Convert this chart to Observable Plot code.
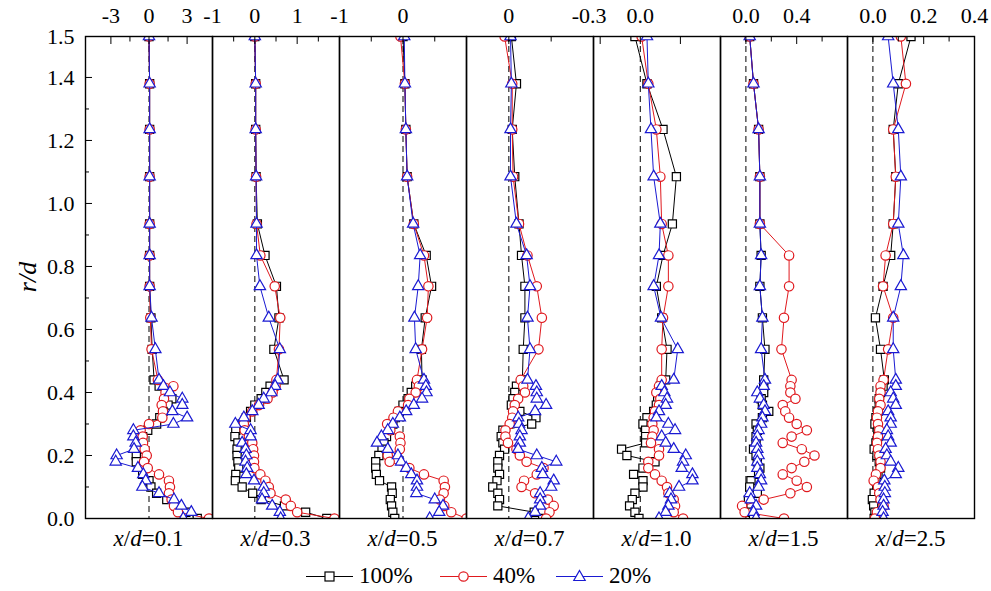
<!DOCTYPE html>
<html><head><meta charset="utf-8">
<script src="https://cdn.jsdelivr.net/npm/d3@7"></script>
<script src="https://cdn.jsdelivr.net/npm/@observablehq/plot@0.6"></script>
<style>
body{margin:0;background:#fff;}
#wrap{position:relative;width:991px;height:591px;overflow:hidden;background:#fff;font-family:"Liberation Serif","Times New Roman",serif;color:#000;}
.pan{position:absolute;top:0;}
.xl{position:absolute;top:526px;width:127px;text-align:center;font-size:23px;white-space:nowrap;}
.yl{position:absolute;left:-2px;top:262px;width:60px;text-align:center;font-size:26px;font-style:italic;transform:rotate(-90deg);}
.leg{position:absolute;top:562px;height:28px;display:flex;align-items:center;font-size:23px;}
.leg svg{margin-right:6px;}
</style></head><body><div id="wrap"></div>
<script>
// r/d positions (top to bottom)
const r = [1.53, 1.38, 1.235, 1.085, 0.935, 0.835, 0.737, 0.637, 0.537,
  0.44, 0.42, 0.40, 0.38, 0.36, 0.34, 0.32, 0.30, 0.28, 0.26, 0.24, 0.22, 0.20, 0.18, 0.16, 0.14, 0.12, 0.10, 0.08, 0.06, 0.04, 0.02, 0.0];

// x/d = 0.1
const x01_100 = [0.0, 0.05, 0.05, 0.05, 0.05, 0.05, 0.05, 0.15, 0.25,
  0.4, 0.8, 1.6, 1.8, 1.5, 1.1, 0.85, 0.6, -0.1, -0.5, -0.6, -0.8, -1.0, -1.0, -0.5, -0.5, 0.0, 0.15, 0.6, 1.4, 2.1, 2.9, 3.8];
const x01_40 = [0.0, 0.05, 0.05, 0.05, 0.05, 0.05, 0.05, 0.1, 0.2,
  0.7, 1.92, 1.3, 1.18, 1.0, 1.1, 1.05, 0.0, -0.66, -0.5, -0.47, -0.34, -0.18, -0.39, -0.1, 0.79, 1.57, 1.65, 1.57, 1.78, 1.97, 2.28, 4.72];
const x01_20 = [0.0, 0.05, 0.05, 0.05, 0.05, 0.05, 0.05, 0.2, 0.5,
  0.79, 1.13, 1.65, 2.62, 2.62, 1.84, 3.0, 1.92, -1.23, -1.23, -1.05, -1.18, -2.55, -2.62, -0.87, -0.45, -0.26, -0.52, 0.79, 1.97, 2.55, 3.33, 2.7];
// x/d = 0.3
const x03_100 = [0.0, 0.02, 0.02, 0.03, 0.06, 0.24, 0.51, 0.57, 0.45,
  0.69, 0.36, 0.26, 0.15, 0.0, -0.1, -0.2, -0.3, -0.45, -0.47, -0.4, -0.42, -0.42, -0.4, -0.38, -0.45, -0.46, -0.3, -0.05, 0.15, 0.7, 1.2, 1.7];
const x03_40 = [0.0, 0.02, 0.02, 0.03, 0.04, 0.13, 0.47, 0.6, 0.57,
  0.51, 0.49, 0.42, 0.3, 0.1, -0.06, -0.22, -0.26, -0.24, -0.14, -0.06, -0.04, -0.02, -0.02, -0.01, 0.13, 0.25, 0.33, 0.37, 0.73, 0.85, 1.0, 1.88];
const x03_20 = [0.0, 0.02, 0.02, 0.03, 0.04, 0.04, 0.12, 0.33, 0.59,
  0.54, 0.48, 0.39, 0.21, 0.09, -0.06, -0.26, -0.46, -0.1, -0.1, -0.3, -0.22, -0.2, -0.22, -0.18, -0.2, -0.02, 0.21, 0.21, 0.17, 0.41, 0.59, 0.61];
// x/d = 0.5
const x05_100 = [0.0, 0.03, 0.045, 0.065, 0.17, 0.365, 0.45, 0.35, 0.29,
  0.3, 0.2, 0.13, 0.08, 0.0, -0.06, -0.12, -0.16, -0.21, -0.26, -0.3, -0.33, -0.38, -0.43, -0.43, -0.42, -0.37, -0.18, -0.17, -0.2, -0.18, -0.16, -0.13];
const x05_40 = [-0.04, 0.03, 0.045, 0.065, 0.17, 0.33, 0.4, 0.38, 0.3,
  0.22, 0.25, 0.2, 0.1, 0.08, -0.08, -0.15, -0.25, -0.2, -0.05, -0.04, -0.05, -0.24, -0.21, 0.1, 0.33, 0.64, 0.66, 0.64, 0.58, 0.65, 0.76, 1.0];
const x05_20 = [0.02, 0.03, 0.045, 0.065, 0.16, 0.27, 0.24, 0.18, 0.2,
  0.33, 0.36, 0.37, 0.30, 0.17, 0.05, -0.05, -0.16, -0.24, -0.34, -0.41, -0.24, -0.08, -0.03, 0.05, 0.13, 0.22, 0.22, 0.21, 0.5, 0.63, 0.57, 0.42];
// x/d = 0.7
const x07_100 = [0.03, 0.09, 0.04, 0.07, 0.12, 0.15, 0.19, 0.19, 0.17,
  0.16, 0.09, 0.07, 0.05, 0.03, 0.13, 0.32, 0.27, -0.07, -0.09, -0.07, -0.05, -0.11, -0.13, -0.13, -0.11, -0.14, -0.19, -0.13, -0.11, -0.13, 0.3, 0.4];
const x07_40 = [-0.05, 0.04, 0.04, 0.05, 0.12, 0.22, 0.33, 0.39, 0.35,
  0.14, 0.17, 0.19, 0.11, 0.07, 0.05, 0.04, 0.01, -0.04, -0.04, -0.01, 0.09, 0.13, 0.21, 0.41, 0.33, 0.18, 0.15, 0.31, 0.46, 0.53, 0.48, 0.44];
const x07_20 = [0.02, 0.03, 0.02, 0.02, 0.09, 0.21, 0.25, 0.22, 0.25,
  0.22, 0.32, 0.33, 0.33, 0.44, 0.31, 0.11, 0.12, 0.15, 0.13, 0.13, 0.11, 0.33, 0.56, 0.39, 0.4, 0.53, 0.5, 0.37, 0.37, 0.37, 0.31, 0.23];
// x/d = 1.0
const x10_100 = [-0.04, 0.05, 0.17, 0.27, 0.24, 0.17, 0.12, 0.16, 0.2,
  0.19, 0.15, 0.14, 0.13, 0.12, 0.1, 0.05, 0.02, 0.04, 0.04, 0.04, -0.14, -0.1, 0.11, 0.02, -0.05, 0.02, 0.02, -0.04, -0.06, -0.08, -0.04, -0.01];
const x10_40 = [0.01, 0.06, 0.12, 0.15, 0.16, 0.21, 0.21, 0.17, 0.16,
  0.16, 0.14, 0.12, 0.15, 0.14, 0.11, 0.1, 0.09, 0.1, 0.09, 0.08, 0.14, 0.14, 0.06, 0.06, 0.11, 0.16, 0.2, 0.21, 0.25, 0.26, 0.25, 0.32];
const x10_20 = [0.05, 0.06, 0.08, 0.1, 0.15, 0.14, 0.1, 0.155, 0.28,
  0.25, 0.16, 0.18, 0.2, 0.19, 0.14, 0.12, 0.21, 0.26, 0.16, 0.19, 0.25, 0.34, 0.32, 0.31, 0.39, 0.39, 0.29, 0.22, 0.23, 0.21, 0.19, 0.14];
// x/d = 1.5
const x15_100 = [0.03, 0.06, 0.1, 0.11, 0.11, 0.12, 0.11, 0.13, 0.15,
  0.14, 0.14, 0.14, 0.12, 0.13, 0.18, 0.13, 0.08, 0.09, 0.08, 0.08, 0.06, 0.08, 0.09, 0.11, 0.1, 0.04, 0.03, 0.09, 0.02, 0.04, 0.04, 0.06];
const x15_40 = [0.03, 0.06, 0.1, 0.11, 0.11, 0.34, 0.34, 0.3, 0.28,
  0.36, 0.35, 0.35, 0.39, 0.29, 0.31, 0.34, 0.4, 0.48, 0.36, 0.29, 0.44, 0.54, 0.46, 0.36, 0.29, 0.4, 0.48, 0.35, 0.14, -0.03, -0.01, 0.3];
const x15_20 = [0.03, 0.06, 0.1, 0.11, 0.11, 0.12, 0.11, 0.13, 0.12,
  0.15, 0.14, 0.09, 0.11, 0.14, 0.15, 0.13, 0.12, 0.1, 0.09, 0.08, 0.09, 0.1, 0.09, 0.09, 0.11, 0.12, 0.1, 0.03, 0.04, 0.08, 0.06, 0.08];
// x/d = 2.5
const x25_100 = [0.15, 0.1, 0.08, 0.09, 0.08, 0.07, 0.04, 0.01, 0.03,
  0.045, 0.04, 0.03, 0.025, 0.025, 0.02, 0.012, 0.008, 0.02, 0.02, 0.012, 0.005, 0.016, 0.025, 0.03, 0.02, 0.012, 0.016, 0.005, -0.002, 0.003, 0.008, 0.005];
const x25_40 = [0.11, 0.13, 0.08, 0.09, 0.08, 0.05, 0.04, 0.08, 0.06,
  0.042, 0.03, 0.03, 0.025, 0.03, 0.02, 0.016, 0.02, 0.025, 0.02, 0.016, 0.02, 0.025, 0.03, 0.03, 0.012, 0.003, 0.02, 0.025, 0.03, 0.042, 0.016, 0.008];
const x25_20 = [0.06, 0.08, 0.1, 0.11, 0.1, 0.12, 0.11, 0.08, 0.08,
  0.09, 0.09, 0.07, 0.08, 0.09, 0.06, 0.07, 0.07, 0.055, 0.06, 0.07, 0.05, 0.055, 0.07, 0.1, 0.09, 0.045, 0.047, 0.047, 0.042, 0.042, 0.038, 0.042];

// axis tick labels
const yTicks = [0.0, 0.2, 0.4, 0.6, 0.8, 1.0, 1.2, 1.4, 1.53];
const yMinor = [0.1, 0.3, 0.5, 0.7, 0.9, 1.1, 1.3];
const panelNames = ["0.1", "0.3", "0.5", "0.7", "1.0", "1.5", "2.5"];
const seriesNames = ["100%", "40%", "20%"];

const f1 = d => d3.format(".1f")(d).replace("\u2212", "-");
const fInt = d => String(d);
const panels = [
  {name: panelNames[0], domain: [-5, 5], labeled: [-3, 0, 3], shifted: [], major: [], minor: [-1.5, 1.5], fmt: fInt, s: [x01_100, x01_40, x01_20]},
  {name: panelNames[1], domain: [-1, 2], labeled: [-1, 0, 1], shifted: [], major: [], minor: [-0.5, 0.5, 1.5], fmt: fInt, s: [x03_100, x03_40, x03_20]},
  {name: panelNames[2], domain: [-1, 1], labeled: [-1, 0], shifted: [], major: [], minor: [-0.5, 0.5], fmt: fInt, s: [x05_100, x05_40, x05_20]},
  {name: panelNames[3], domain: [-0.5, 1], labeled: [0], shifted: [], major: [], minor: [0.5], fmt: fInt, s: [x07_100, x07_40, x07_20]},
  {name: panelNames[4], domain: [-0.35, 0.6], labeled: [0], shifted: [-0.3], major: [-0.3, 0.3], minor: [], fmt: f1, s: [x10_100, x10_40, x10_20]},
  {name: panelNames[5], domain: [-0.2, 0.8], labeled: [0, 0.4], shifted: [], major: [], minor: [0.2, 0.6], fmt: f1, s: [x15_100, x15_40, x15_20]},
  {name: panelNames[6], domain: [-0.1, 0.4], labeled: [0, 0.2, 0.4], shifted: [], major: [], minor: [0.1, 0.3], fmt: f1, s: [x25_100, x25_40, x25_20]}
];

const styles = [
  {color: "#000000", symbol: "square", r: 4.6},
  {color: "#e0191e", symbol: "circle", r: 4.7},
  {color: "#1a1ad2", symbol: "triangle", r: 4.2}
];

const PW = 127, left0 = 85, MT = 36, H = 560, MB = 42;
const wrap = document.getElementById("wrap");

panels.forEach((P, i) => {
  const first = i === 0;
  const mL = first ? left0 : 22, mR = 22;
  const rows = r.map((rv, k) => ({r: rv, v0: P.s[0][k], v1: P.s[1][k], v2: P.s[2][k]}));
  const marks = [
    Plot.ruleX([0], {stroke: "#000", strokeWidth: 1, strokeDasharray: "6,4"})
  ];
  styles.forEach((st, j) => {
    marks.push(Plot.line(rows, {x: "v" + j, y: "r", stroke: st.color, strokeWidth: 1, clip: true}));
    marks.push(Plot.dot(rows, {x: "v" + j, y: "r", symbol: st.symbol, r: st.r, fill: "white", stroke: st.color, strokeWidth: 1.2, clip: true}));
  });
  marks.push(Plot.axisX(P.labeled, {anchor: "top", tickSize: -7, tickPadding: 21, tickFormat: P.fmt, label: null, fontSize: 22}));
  if (P.shifted.length) marks.push(Plot.axisX(P.shifted, {anchor: "top", tickSize: 0, tickPadding: 14, dx: -11, tickFormat: P.fmt, label: null, fontSize: 22}));
  if (P.major.length) marks.push(Plot.axisX(P.major, {anchor: "top", tickSize: -7, tickFormat: () => "", label: null}));
  if (P.minor.length) marks.push(Plot.axisX(P.minor, {anchor: "top", tickSize: -4.5, tickFormat: () => "", label: null}));
  if (first) {
    marks.push(Plot.axisY(yTicks, {anchor: "left", tickSize: -7, tickPadding: 18, tickFormat: f1, label: null, fontSize: 22}));
    marks.push(Plot.axisY(yMinor, {anchor: "left", tickSize: -4, tickFormat: () => "", label: null}));
  }
  marks.push(Plot.frame({stroke: "#000", strokeWidth: 1.4}));
  const chart = Plot.plot({
    width: mL + PW + mR, height: H,
    marginLeft: mL, marginRight: mR, marginTop: MT, marginBottom: MB,
    x: {domain: P.domain, axis: null},
    y: {domain: [0, 1.53], axis: null},
    style: {fontFamily: '"Liberation Serif", "Times New Roman", serif', fontSize: "22px", background: "transparent", color: "#000", overflow: "visible"},
    marks
  });
  chart.classList.add("pan");
  chart.style.left = (left0 + i * PW - mL) + "px";
  chart.style.maxWidth = "none";
  wrap.appendChild(chart);

  const lab = document.createElement("div");
  lab.className = "xl";
  lab.style.left = (left0 + i * PW) + "px";
  lab.innerHTML = '<i>x</i>/<i>d</i>=' + P.name;
  wrap.appendChild(lab);
});

const yl = document.createElement("div");
yl.className = "yl";
yl.innerHTML = "r/d";
wrap.appendChild(yl);

// legend
const legX = [306, 440, 556];
seriesNames.forEach((nm, j) => {
  const st = styles[j];
  let sym;
  if (st.symbol === "square") sym = '<rect x="19" y="6" width="9" height="9" fill="white" stroke="' + st.color + '" stroke-width="1.2"/>';
  else if (st.symbol === "circle") sym = '<circle cx="23.5" cy="10.5" r="4.7" fill="white" stroke="' + st.color + '" stroke-width="1.2"/>';
  else sym = '<path d="M23.5,4.5 L29.2,14.5 L17.8,14.5 Z" fill="white" stroke="' + st.color + '" stroke-width="1.2"/>';
  const d = document.createElement("div");
  d.className = "leg";
  d.style.left = legX[j] + "px";
  d.innerHTML = '<svg width="47" height="20"><line x1="0" y1="10.5" x2="47" y2="10.5" stroke="' + st.color + '" stroke-width="1"/>' + sym + '</svg><span>' + nm + '</span>';
  wrap.appendChild(d);
});
</script></body></html>
